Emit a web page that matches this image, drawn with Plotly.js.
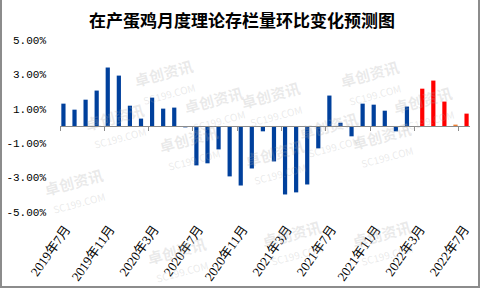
<!DOCTYPE html>
<html>
<head>
<meta charset="utf-8">
<script src="https://cdn.plot.ly/plotly-3.0.1.min.js"></script>
<style>
html,body{margin:0;padding:0;background:#fff;}
#chart{width:480px;height:288px;box-sizing:border-box;border-left:2px solid #8c8c8c;border-right:2px solid #8c8c8c;border-bottom:2px solid #8c8c8c;}
</style>
</head>
<body>
<div id="chart"></div>
<script>
// Categories (months)
const months = [
  "2019年7月","2019年8月","2019年9月","2019年10月","2019年11月","2019年12月",
  "2020年1月","2020年2月","2020年3月","2020年4月","2020年5月","2020年6月",
  "2020年7月","2020年8月","2020年9月","2020年10月","2020年11月","2020年12月",
  "2021年1月","2021年2月","2021年3月","2021年4月","2021年5月","2021年6月",
  "2021年7月","2021年8月","2021年9月","2021年10月","2021年11月","2021年12月",
  "2022年1月","2022年2月","2022年3月","2022年4月","2022年5月","2022年6月","2022年7月"
];
// Actual month-on-month change (%), 2019-07 .. 2022-02
const actualValues = [
  1.30, 0.95, 1.53, 2.06, 3.40, 2.93, 1.18, 0.43, 1.65, 1.01, 1.07, -0.08,
  -2.29, -2.17, -1.36, -2.93, -3.46, -2.47, -0.31, -2.06, -3.98, -3.86, -3.40, -1.30,
  1.77, 0.19, -0.60, 1.30, 1.24, 0.89, -0.31, 1.13
];
// Forecast month-on-month change (%), 2022-03 .. 2022-07
const forecastMonths = ["2022年3月","2022年4月","2022年5月","2022年6月","2022年7月"];
const forecastValues = [2.17, 2.64, 1.42, 0.08, 0.72];
// Tick labels
const xTickLabels = ["2019年7月","2019年11月","2020年3月","2020年7月","2020年11月",
  "2021年3月","2021年7月","2021年11月","2022年3月","2022年7月"];
const yTickValues = [-5, -3, -1, 1, 3, 5];
const yTickLabels = ["-5.00%", "-3.00%", "-1.00%", "1.00%", "3.00%", "5.00%"];

// styles
const blue = "#00409C";
const red = "#FF0000";
const forecastColors = [red, red, red, "#ED7D31", red];

const actualY = months.map((m, i) => i < actualValues.length ? actualValues[i] : null);
const forecastY = months.map(m => {
  const k = forecastMonths.indexOf(m);
  return k >= 0 ? forecastValues[k] : null;
});
const fcColorsFull = months.map(m => {
  const k = forecastMonths.indexOf(m);
  return k >= 0 ? forecastColors[k] : red;
});

const traces = [
  {type: "bar", x: months, y: actualY, marker: {color: blue}, name: "实际", hoverinfo: "x+y"},
  {type: "bar", x: months, y: forecastY, marker: {color: fcColorsFull}, name: "预测", hoverinfo: "x+y"},
  {type: "scatter", mode: "lines", x: months, y: months.map(() => null), xaxis: "x2", yaxis: "y",
   showlegend: false, hoverinfo: "skip"}
];

// watermark annotations
const wmPos = [
  [0.17, 0.93], [0.52, 0.80], [0.85, 0.92], [0.05, 0.50], [0.38, 0.60],
  [0.66, 0.45], [0.98, 0.60], [0.23, 0.20], [0.53, 0.12], [0.88, 0.22],
  [-0.05, -0.05], [0.57, -0.35], [0.20, -0.45], [0.88, -0.35]
];
const annotations = wmPos.map(p => ({
  xref: "paper", yref: "paper", x: p[0], y: p[1], showarrow: false,
  text: "<b>卓创资讯</b><br><span style='font-size:10px'>SC199.COM</span>",
  textangle: -15, font: {family: "Noto Sans CJK SC", size: 15, color: "rgba(170,170,170,0.25)"}
}));

const layout = {
  width: 480, height: 288,
  margin: {l: 58, r: 12, t: 40, b: 76, pad: 0},
  paper_bgcolor: "rgba(0,0,0,0)", plot_bgcolor: "rgba(0,0,0,0)",
  showlegend: false,
  barmode: "group", bargap: 0.24, bargroupgap: 0,
  title: {text: "<b>在产蛋鸡月度理论存栏量环比变化预测图</b>", x: 0.5, xanchor: "center",
          y: 1 - 21/288, yref: "container", yanchor: "middle",
          font: {family: "Noto Sans CJK SC", size: 17, color: "#000"}},
  xaxis: {type: "category", categoryorder: "array", categoryarray: months,
          tickmode: "array", tickvals: xTickLabels, ticktext: xTickLabels,
          tickangle: -55, showgrid: false, zeroline: false, showline: false, ticks: "",
          tickfont: {family: "Liberation Serif, Noto Sans CJK SC", size: 13, color: "#000"},
          ticklabelstandoff: 6},
  xaxis2: {type: "category", overlaying: "x", anchor: "free", position: 0.5, matches: "x",
           categoryorder: "array", categoryarray: months,
           showline: true, linecolor: "#8c8c8c", linewidth: 1,
           ticks: "outside", ticklen: 4, tickcolor: "#8c8c8c", tickwidth: 1,
           tickson: "boundaries", tickmode: "linear", tick0: 0, dtick: 4,
           showticklabels: false, showgrid: false, zeroline: false},
  yaxis: {range: [-5, 5], tickmode: "array", tickvals: yTickValues, ticktext: yTickLabels,
          showgrid: false, zeroline: false, showline: false,
          ticks: "", ticklabelstandoff: 13,
          tickfont: {family: "Liberation Mono, DejaVu Sans Mono", size: 11, color: "#000"}},
  annotations: annotations
};

Plotly.newPlot("chart", traces, layout, {displayModeBar: false, staticPlot: true});
</script>
</body>
</html>
